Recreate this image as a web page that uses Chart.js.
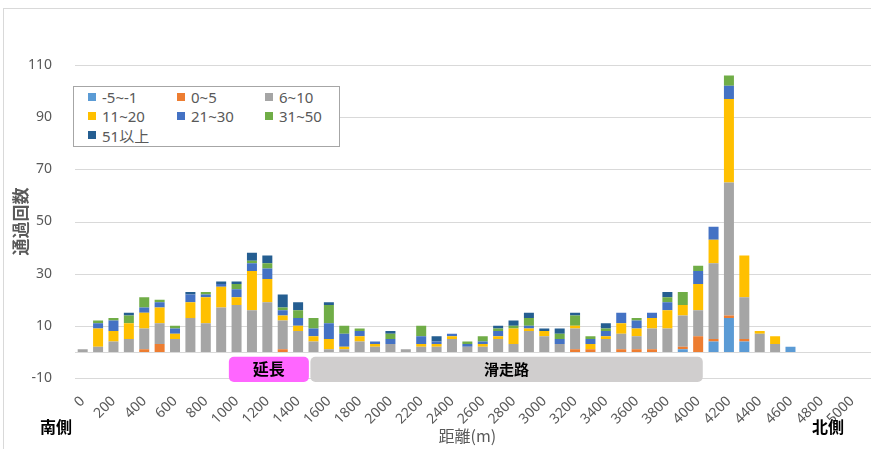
<!DOCTYPE html>
<html lang="ja">
<head>
<meta charset="utf-8">
<title>通過回数</title>
<script src="https://cdn.jsdelivr.net/npm/chart.js@4.4.1/dist/chart.umd.min.js"></script>
<style>
  html, body { margin: 0; padding: 0; background: #fff; overflow: hidden; }
  #wrap { position: relative; width: 871px; height: 449px; overflow: hidden; }
  #frame { position: absolute; left: 3px; top: 8px; width: 900px; height: 500px; border: 1px solid #d9d9d9; }
  #chart { position: absolute; left: 0; top: 0; }
  #legend {
    position: absolute; left: 73px; top: 86px; width: 267px; height: 61px;
    border: 1px solid #a6a6a6; background: #fff; box-sizing: border-box;
    font: 15px 'Noto Sans', 'Noto Sans CJK JP', sans-serif; color: #595959;
  }
  .item { position: absolute; display: flex; align-items: center; white-space: nowrap; height: 18px; }
  .item i { display: inline-block; width: 8px; height: 8px; margin-right: 6px; }
</style>
</head>
<body>
<div id="wrap">
  <div id="frame"></div>
  <canvas id="chart" width="871" height="449"></canvas>
  <div id="legend"></div>
</div>
<script>
// distance from the south end, every 100 m
const distances = [];
for (let m = 0; m <= 5000; m += 100) distances.push(String(m));

const seriesNames = ['-5~-1', '0~5', '6~10', '11~20', '21~30', '31~50', '51以上'];
const seriesColors = ['#5B9BD5', '#ED7D31', '#A5A5A5', '#FFC000', '#4472C4', '#70AD47', '#255E91'];

//                    0  1  2  3  4  5  6  7  8  9 10 11 12 13 14 15 16 17 18 19 20 21 22 23 24 25 26 27 28 29 30 31 32 33 34 35 36 37 38 39 40 41 42 43 44 45 46 47 48 49 50
const countM5toM1 = [ 0, 0, 0, 0, 0, 0, 0, 0, 0, 0, 0, 0, 0, 0, 0, 0, 0, 0, 0, 0, 0, 0, 0, 0, 0, 0, 0, 0, 0, 0, 0, 0, 0, 0, 0, 0, 0, 0, 0, 1, 0, 4,13, 4, 0, 0, 2, 0, 0, 0, 0];
const count0to5     = [ 0, 0, 0, 0, 1, 3, 0, 0, 0, 0, 0, 0, 0, 1, 0, 0, 0, 0, 0, 0, 0, 0, 0, 0, 0, 0, 0, 0, 0, 0, 0, 0, 1, 1, 0, 1, 1, 1, 0, 1, 6, 1, 1, 1, 0, 0, 0, 0, 0, 0, 0];
const count6to10    = [ 1, 2, 4, 5, 8, 8, 5,13,11,17,18,16,19,11, 8, 4, 1, 1, 4, 2, 3, 1, 2, 2, 5, 2, 2, 5, 3, 8, 6, 3, 8, 0, 5, 6, 5, 8, 9,12,10,29,51,16, 7, 3, 0, 0, 0, 0, 0];
const count11to20   = [ 0, 7, 4, 6, 6, 6, 2, 6,10, 8, 3,15, 9, 2, 2, 2, 4, 1, 2, 1, 0, 0, 1, 1, 1, 0, 1, 1, 6, 1, 2, 0, 1, 2, 1, 4, 3, 4, 7, 4,10, 9,32,16, 1, 3, 0, 0, 0, 0, 0];
const count21to30   = [ 0, 2, 4, 0, 2, 2, 2, 3, 1, 1, 3, 3, 4, 2, 3, 3, 6, 5, 2, 1, 2, 0, 3, 1, 1, 1, 1, 2, 0, 1, 0, 2, 0, 2, 2, 4, 3, 2, 3, 0, 5, 5, 5, 0, 0, 0, 0, 0, 0, 0, 0];
const count31to50   = [ 0, 1, 1, 3, 4, 1, 1, 0, 1, 0, 2, 1, 2, 1, 3, 4, 7, 3, 1, 0, 2, 0, 4, 0, 0, 1, 2, 1, 1, 3, 0, 2, 4, 1, 1, 0, 1, 0, 2, 5, 2, 0, 4, 0, 0, 0, 0, 0, 0, 0, 0];
const count51plus   = [ 0, 0, 0, 1, 0, 0, 0, 1, 0, 1, 1, 3, 3, 5, 3, 0, 1, 0, 0, 0, 1, 0, 0, 2, 0, 0, 0, 1, 2, 2, 1, 2, 1, 0, 2, 0, 0, 0, 2, 0, 0, 0, 0, 0, 0, 0, 0, 0, 0, 0, 0];

const seriesValues = [countM5toM1, count0to5, count6to10, count11to20, count21to30, count31to50, count51plus];

// sections drawn under the axis, in metres
const sections = [
  { label: '延長', from: 950, to: 1470, color: '#FF66FF', size: 16 },
  { label: '滑走路', from: 1480, to: 4030, color: '#D0CECE', size: 15 },
];

const yTicks = { min: -10, max: 110, step: 20 };

const cjk = "'Noto Sans CJK JP', sans-serif";
const latin = "'Noto Sans', 'Noto Sans CJK JP', sans-serif";

// legend box
const legendEl = document.getElementById('legend');
seriesNames.forEach((name, i) => {
  const el = document.createElement('div');
  el.className = 'item';
  el.style.left = [14, 103, 191][i % 3] + 'px';
  el.style.top = (1 + Math.floor(i / 3) * 19) + 'px';
  el.innerHTML = '<i style="background:' + seriesColors[i] + '"></i>' + name;
  legendEl.appendChild(el);
});

const extras = {
  id: 'extras',
  beforeDatasetsDraw(chart) {
    const { ctx, chartArea, scales: { x, y } } = chart;
    ctx.save();
    ctx.strokeStyle = '#D9D9D9';
    ctx.lineWidth = 1;
    y.ticks.forEach(t => {
      const py = Math.round(y.getPixelForValue(t.value)) + 0.5;
      ctx.beginPath();
      ctx.moveTo(chartArea.left, py);
      ctx.lineTo(chart.width, py);
      ctx.stroke();
    });
    const zy = Math.round(y.getPixelForValue(0)) + 0.5;
    ctx.beginPath();
    ctx.moveTo(chartArea.left, zy);
    ctx.lineTo(chart.width, zy);
    ctx.stroke();

    // section boxes
    sections.forEach(s => {
      const x0 = x.getPixelForValue(s.from / 100);
      const x1 = x.getPixelForValue(s.to / 100);
      const y0 = y.getPixelForValue(-1.9);
      const y1 = y.getPixelForValue(-11.5);
      ctx.fillStyle = s.color;
      ctx.beginPath();
      ctx.roundRect(x0, y0, x1 - x0, y1 - y0, 5);
      ctx.fill();
      ctx.fillStyle = '#000';
      ctx.font = 'bold ' + s.size + 'px ' + cjk;
      ctx.textAlign = 'center';
      ctx.textBaseline = 'middle';
      ctx.fillText(s.label, (x0 + x1) / 2, (y0 + y1) / 2);
    });
    ctx.restore();
  },
  afterDraw(chart) {
    const { ctx } = chart;
    ctx.save();
    ctx.fillStyle = '#000';
    ctx.font = 'bold 16px ' + cjk;
    ctx.textAlign = 'center';
    ctx.textBaseline = 'middle';
    ctx.fillText('南側', 56, 427);
    ctx.fillText('北側', 828, 427);
    ctx.restore();
  }
};

new Chart(document.getElementById('chart'), {
  type: 'bar',
  data: {
    labels: distances,
    datasets: seriesNames.map((name, i) => ({
      label: name,
      data: seriesValues[i],
      backgroundColor: seriesColors[i],
      borderWidth: 0,
      barPercentage: 0.65,
      categoryPercentage: 1,
    })),
  },
  options: {
    responsive: false,
    animation: false,
    layout: { padding: { top: 65, right: 9, bottom: 0, left: 0 } },
    plugins: { legend: { display: false }, tooltip: { enabled: false } },
    scales: {
      x: {
        stacked: true,
        grid: { display: false },
        border: { display: false },
        ticks: {
          autoSkip: false,
          minRotation: 45,
          maxRotation: 45,
          padding: 7,
          color: '#595959',
          font: { family: latin, size: 14 },
          callback: function (val, index) {
            return index % 2 === 0 ? this.getLabelForValue(val) : '';
          },
        },
        title: {
          display: true,
          text: '距離(m)',
          color: '#595959',
          font: { family: cjk, size: 16 },
          padding: { top: 0, bottom: 3 },
        },
        afterFit(scale) { scale.height = 71; },
      },
      y: {
        stacked: true,
        min: yTicks.min,
        max: yTicks.max,
        grid: { display: false },
        border: { display: false },
        ticks: {
          stepSize: yTicks.step,
          padding: 15,
          color: '#595959',
          font: { family: latin, size: 14 },
        },
        title: {
          display: true,
          text: '通過回数',
          color: '#595959',
          font: { family: cjk, size: 17, weight: 'bold' },
          padding: { top: 10, bottom: 0 },
        },
        afterFit(scale) { scale.width = 75; },
      },
    },
  },
  plugins: [extras],
});
</script>
</body>
</html>
